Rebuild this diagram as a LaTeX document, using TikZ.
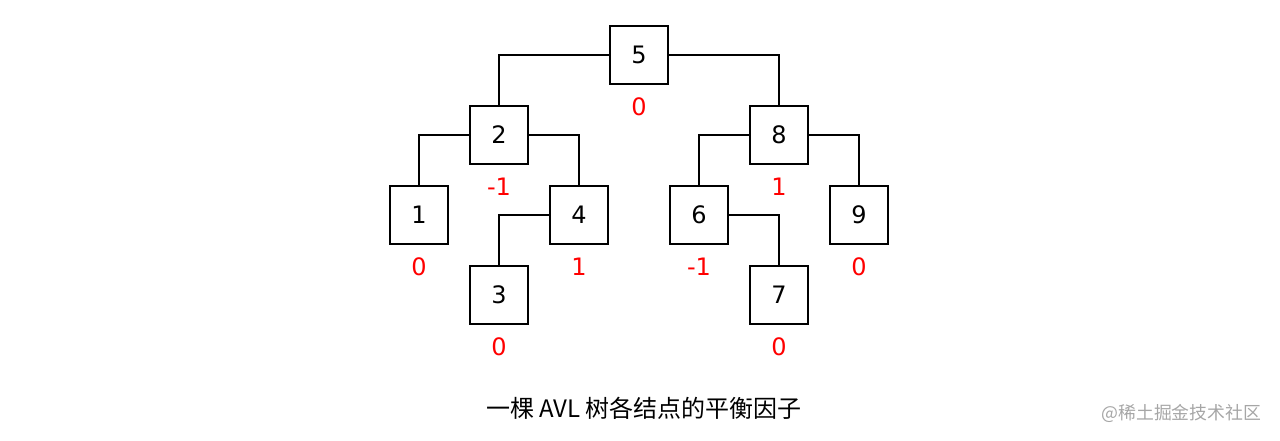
\documentclass[tikz,border=0pt]{standalone}
\usepackage{fontspec}
\setmainfont{DejaVu Sans}
\newfontfamily\cjk{Noto Sans CJK SC}
\usepackage{tikz}

\begin{document}
\begin{tikzpicture}[x=0.75pt,y=-0.75pt,-]
            \tikzstyle{vertex}=[rectangle,draw=black,line width=1.5pt,fill=white,minimum size=43.5pt,inner sep=0pt,font=\fontsize{18}{20}\selectfont]
            \tikzstyle{factor}=[text=red,inner sep=0pt,font=\fontsize{18}{20}\selectfont]
            \useasboundingbox (0,0) rectangle (1280,440);
                    \node[vertex] (V-5) at (639,55){5};
                    \node[vertex] (V-2) at (499,135){2};
                    \node[vertex] (V-8) at (779,135){8};
                    \node[vertex] (V-1) at (419,215){1};
                    \node[vertex] (V-4) at (579,215){4};
                    \node[vertex] (V-6) at (699,215){6};
                    \node[vertex] (V-9) at (859,215){9};
                    \node[vertex] (V-3) at (499,295){3};
                    \node[vertex] (V-7) at (779,295){7};

                    \foreach \v/\f in {5/0, 2/-1, 8/1, 1/0, 4/1, 6/-1, 9/0, 3/0, 7/0}
                        \node[factor] (F-\v) at ([yshift=-39pt]V-\v.center){\f};

                \foreach \from/\side/\to in {5/west/2, 5/east/8, 2/west/1, 2/east/4, 8/west/6, 8/east/9, 4/west/3, 6/east/7}
                    \draw[line width=1.5pt] (V-\from.\side) -| (V-\to.north);

                \node[font=\cjk\fontsize{18}{22}\selectfont] (caption) at (644,408){一棵 AVL 树各结点的平衡因子};
                \node[font=\cjk\fontsize{13.4}{16}\selectfont,text=black!35,anchor=east] (mark) at (1266,413){@稀土掘金技术社区};
        \end{tikzpicture}
\end{document}
